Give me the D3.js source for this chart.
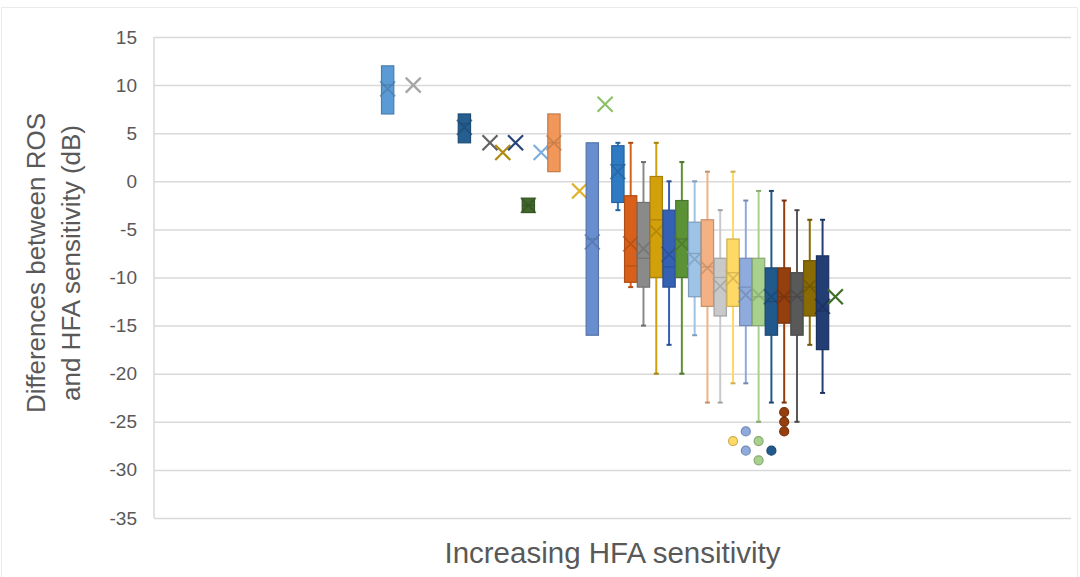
<!DOCTYPE html>
<html>
<head>
<meta charset="utf-8">
<script src="https://cdn.jsdelivr.net/npm/d3@7"></script>
<style>
  html, body { margin: 0; padding: 0; background: #fff; }
  svg { display: block; }
</style>
</head>
<body>
<svg id="chart" width="1080" height="577"></svg>
<script>
// Slot position of each group within the single category (gaps are empty slots)
const slots   = [0, 2, 6, 8, 9, 10, 11, 12, 13, 15, 16, 17, 18, 19, 20, 21, 22, 23, 24, 25, 26, 27, 28, 29, 30, 31, 32, 33, 34, 35];
// Five-number summaries and means (dB)
const lowVals    = [7, 10, 4, 4, 3, 4, -3.25, 3, 1, -1, -16, 8, -3, -11, -15, -20, -17, -20, -16, -23, -23, -21, -21, -25, -23, -23, -25, -17, -22, -12];
const q1Vals     = [7, 10, 4, 4, 3, 4, -3.25, 3, 1, -1, -16, 8, -2.2, -10.5, -11, -10, -11, -10, -12, -13, -14, -13, -15, -15, -16, -14.75, -16, -14, -17.5, -12];
const medianVals = [10, 10, 6, 4, 3, 4, -2.5, 3, 4, -1, -6, 8, 1.7, -8.8, -8, -4, -8.9, -6, -7.5, -8.9, -10, -9.5, -11, -12, -12.5, -12, -12, -11, -13.5, -12];
const q3Vals     = [12, 10, 7, 4, 3, 4, -1.75, 3, 7, -1, 4, 8, 3.7, -1.5, -2.2, 0.5, -3, -2, -4.25, -4, -8, -6, -8, -8, -9, -9, -9.5, -8.25, -7.75, -12];
const highVals   = [12, 10, 7, 4, 3, 4, -1.75, 3, 7, -1, 4, 8, 4, 4, 2, 4, 0, 2, 0, 1, -3, 1, -2, -1, -1, -2, -3, -4, -4, -12];
const meanVals   = [9.6, 10, 5.6, 4, 3, 4, -2.5, 3, 4, -1, -6.3, 8, 1.0, -6.5, -7, -5.2, -7.6, -6.5, -8.1, -9, -10.9, -10.1, -11.8, -11.8, -12, -12, -11.9, -10.9, -13, -12];
const outlierVals = [[], [], [], [], [], [], [], [], [], [], [], [], [], [], [], [], [], [], [], [], [], [-27], [-26, -28], [-27, -29], [-28], [-24, -25, -26], [], [], [], []];
// Fill colour of each group
const palette = ["#5B9BD5", "#A5A5A5", "#255E91", "#636363", "#B08A10", "#264478", "#43682B", "#7CAFDD",
                 "#F1975A", "#DDB12B", "#698ED0", "#8CC168", "#2E7BC4", "#D8601A", "#8A8A8A", "#D1A00A",
                 "#3461B3", "#5B9236", "#9DC3E6", "#F4B183", "#C9C9C9", "#FFD966", "#8FAADC", "#A9D18E",
                 "#22598C", "#953F0F", "#595959", "#8A6A05", "#233E74", "#3F6E28"];
const yTicks = [15, 10, 5, 0, -5, -10, -15, -20, -25, -30, -35];

const groups = slots.map((s, i) => ({
  slot: s, low: lowVals[i], q1: q1Vals[i], median: medianVals[i], q3: q3Vals[i],
  high: highVals[i], mean: meanVals[i], outliers: outlierVals[i], color: palette[i]
}));

const svg = d3.select("#chart");
const W = 1080, H = 577;
const plot = { left: 154, right: 1071, top: 37, bottom: 518 };
const textColor = "#595959";
const gridColor = "#D9D9D9";

// Outer chart frame
svg.append("rect")
  .attr("x", 1.5).attr("y", 7.5).attr("width", W - 4).attr("height", H - 6)
  .attr("fill", "none").attr("stroke", "#EBEBEB").attr("stroke-width", 1);

const y = d3.scaleLinear().domain([-35, 15]).range([plot.bottom, plot.top]);

// One category spanning the plot, 100% gap width: groups occupy the middle half
const plotW = plot.right - plot.left;
const slotIds = d3.range(0, 36);
const x = d3.scaleBand()
  .domain(slotIds)
  .range([plot.left + plotW * 0.25 - 2, plot.right - plotW * 0.25])
  .paddingInner(0.04).paddingOuter(0.02);
const bw = x.bandwidth();
const cx = s => x(s) + bw / 2;

// Gridlines and value axis (hyphen-minus labels)
const yAxis = d3.axisLeft(y).tickValues(yTicks).tickSize(-(plotW)).tickPadding(17).tickFormat(d => String(d));
const gAxis = svg.append("g").attr("transform", `translate(${plot.left},0)`).call(yAxis);
gAxis.select(".domain").remove();
gAxis.selectAll(".tick line").attr("stroke", gridColor).attr("stroke-width", 1.5);
gAxis.selectAll(".tick text")
  .attr("fill", textColor)
  .style("font-family", "'Liberation Sans', Arial, sans-serif")
  .style("font-size", "19px");

svg.append("line")
  .attr("x1", plot.left).attr("x2", plot.left)
  .attr("y1", y(15)).attr("y2", y(-35))
  .attr("stroke", gridColor).attr("stroke-width", 1.5);

// Boxes and whiskers
const g = svg.append("g");
const markerHalf = 7.5;

groups.forEach(d => {
  const c = d.color;
  const dark = d3.color(c).darker(0.6).formatHex();
  const xm = cx(d.slot);
  const gg = g.append("g");

  // whiskers
  if (d.high > d.q3) {
    gg.append("line").attr("x1", xm).attr("x2", xm).attr("y1", y(d.q3)).attr("y2", y(d.high))
      .attr("stroke", c).attr("stroke-width", 2);
    gg.append("line").attr("x1", xm - 2.5).attr("x2", xm + 2.5).attr("y1", y(d.high)).attr("y2", y(d.high))
      .attr("stroke", dark).attr("stroke-width", 2);
  }
  if (d.low < d.q1) {
    gg.append("line").attr("x1", xm).attr("x2", xm).attr("y1", y(d.q1)).attr("y2", y(d.low))
      .attr("stroke", c).attr("stroke-width", 2);
    gg.append("line").attr("x1", xm - 2.5).attr("x2", xm + 2.5).attr("y1", y(d.low)).attr("y2", y(d.low))
      .attr("stroke", dark).attr("stroke-width", 2);
  }

  // box
  if (d.q3 > d.q1) {
    gg.append("rect")
      .attr("x", x(d.slot)).attr("width", bw)
      .attr("y", y(d.q3)).attr("height", y(d.q1) - y(d.q3))
      .attr("fill", c).attr("stroke", dark).attr("stroke-width", 1.2);
    gg.append("line").attr("x1", x(d.slot)).attr("x2", x(d.slot) + bw)
      .attr("y1", y(d.median)).attr("y2", y(d.median))
      .attr("stroke", dark).attr("stroke-width", 1.3).attr("opacity", 0.8);
  }

  // mean marker
  const ym = y(d.mean);
  const single = d.q3 === d.q1;
  const mStroke = single ? c : dark;
  gg.append("path")
    .attr("d", `M${xm - markerHalf},${ym - markerHalf}L${xm + markerHalf},${ym + markerHalf}M${xm - markerHalf},${ym + markerHalf}L${xm + markerHalf},${ym - markerHalf}`)
    .attr("stroke", mStroke).attr("stroke-width", single ? 2.2 : 1.8)
    .attr("opacity", single ? 1 : 0.75).attr("fill", "none");

  // outliers
  d.outliers.forEach(v => {
    gg.append("circle").attr("cx", xm).attr("cy", y(v)).attr("r", 4.5)
      .attr("fill", c).attr("stroke", dark).attr("stroke-width", 1.2);
  });
});

// Axis titles
const yTitle = svg.append("text")
  .attr("transform", `translate(45,263) rotate(-90)`)
  .attr("text-anchor", "middle")
  .attr("fill", textColor)
  .style("font-family", "'Liberation Sans', Arial, sans-serif")
  .style("font-size", "26px");
yTitle.append("tspan").attr("x", 0).attr("y", 0).text("Differences between ROS");
yTitle.append("tspan").attr("x", 0).attr("y", 35).text("and HFA sensitivity (dB)");

svg.append("text")
  .attr("x", (plot.left + plot.right) / 2).attr("y", 563)
  .attr("text-anchor", "middle")
  .attr("fill", textColor)
  .style("font-family", "'Liberation Sans', Arial, sans-serif")
  .style("font-size", "29.5px")
  .text("Increasing HFA sensitivity");
</script>
</body>
</html>
